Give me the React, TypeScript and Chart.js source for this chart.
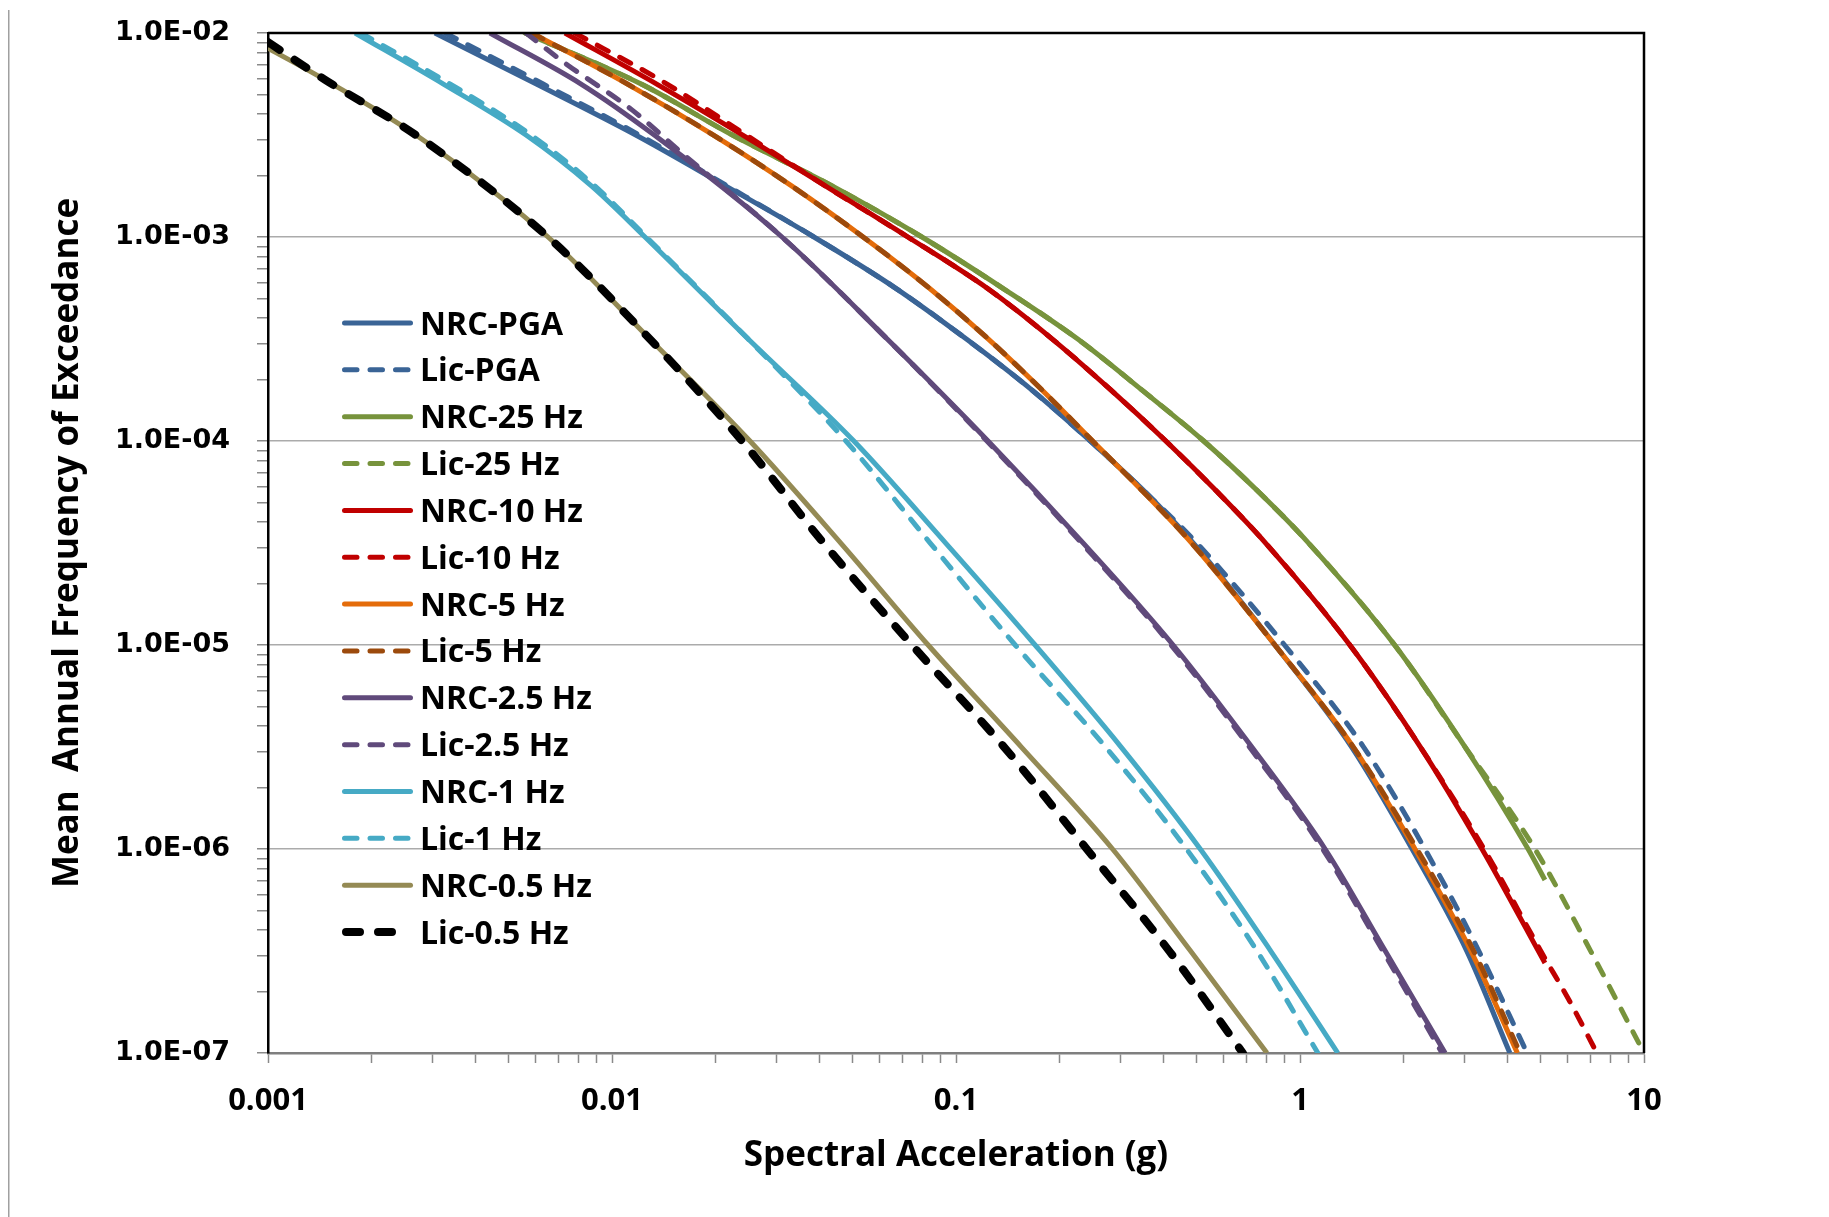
import { useEffect, useRef } from 'react';
import { Chart, registerables } from 'chart.js';

Chart.register(...registerables);

// ---------------- data ----------------
const seriesLabels = [
  'NRC-PGA', 'Lic-PGA', 'NRC-25 Hz', 'Lic-25 Hz', 'NRC-10 Hz', 'Lic-10 Hz', 'NRC-5 Hz',
  'Lic-5 Hz', 'NRC-2.5 Hz', 'Lic-2.5 Hz', 'NRC-1 Hz', 'Lic-1 Hz', 'NRC-0.5 Hz', 'Lic-0.5 Hz',
];

const nrcPgaX = [3.055e-3, 6.026e-3, 1.172e-2, 2.138e-2, 3.864e-2, 6.668e-2, 0.1072, 0.166, 0.2455, 0.3548, 0.4898, 0.8453, 1.413, 2.118, 3.055, 4.074];
const nrcPgaY = [1e-2, 5.62e-3, 3.16e-3, 1.78e-3, 1e-3, 5.62e-4, 3.16e-4, 1.78e-4, 1e-4, 5.62e-5, 3.16e-5, 1e-5, 3.16e-6, 1e-6, 3.16e-7, 1e-7];

const licPgaX = [3.273e-3, 6.31e-3, 1.202e-2, 2.163e-2, 3.864e-2, 6.668e-2, 0.1072, 0.166, 0.2455, 0.3548, 0.5012, 0.9016, 1.531, 2.307, 3.311, 4.571];
const licPgaY = [1e-2, 5.62e-3, 3.16e-3, 1.78e-3, 1e-3, 5.62e-4, 3.16e-4, 1.78e-4, 1e-4, 5.62e-5, 3.16e-5, 1e-5, 3.16e-6, 1e-6, 3.16e-7, 1e-7];

const nrc25X = [5.585e-3, 1.216e-2, 2.239e-2, 4.365e-2, 7.962e-2, 0.1365, 0.2259, 0.3467, 0.5248, 0.7586, 1.059, 1.884, 3.02, 4.603, 5.152];
const nrc25Y = [1e-2, 5.62e-3, 3.16e-3, 1.78e-3, 1e-3, 5.62e-4, 3.16e-4, 1.78e-4, 1e-4, 5.62e-5, 3.16e-5, 1e-5, 3.16e-6, 1e-6, 7.05e-7];

const lic25X = [5.585e-3, 1.216e-2, 2.239e-2, 4.365e-2, 7.962e-2, 0.1365, 0.2259, 0.3467, 0.5248, 0.7586, 1.059, 1.884, 3.02, 4.819, 6.998, 10];
const lic25Y = [1e-2, 5.62e-3, 3.16e-3, 1.78e-3, 1e-3, 5.62e-4, 3.16e-4, 1.78e-4, 1e-4, 5.62e-5, 3.16e-5, 1e-5, 3.16e-6, 1e-6, 3.16e-7, 1e-7];

const nrc10X = [7.295e-3, 1.349e-2, 2.399e-2, 4.169e-2, 7.244e-2, 0.123, 0.1905, 0.2818, 0.4074, 0.5754, 0.7943, 1.396, 2.239, 3.381, 5.152];
const nrc10Y = [1e-2, 5.62e-3, 3.16e-3, 1.78e-3, 1e-3, 5.62e-4, 3.16e-4, 1.78e-4, 1e-4, 5.62e-5, 3.16e-5, 1e-5, 3.16e-6, 1e-6, 2.76e-7];

const lic10X = [7.798e-3, 1.413e-2, 2.455e-2, 4.169e-2, 7.244e-2, 0.123, 0.1905, 0.2818, 0.4074, 0.5754, 0.7943, 1.396, 2.239, 3.428, 5.012, 6.095, 7.295];
const lic10Y = [1e-2, 5.75e-3, 3.16e-3, 1.78e-3, 1e-3, 5.62e-4, 3.16e-4, 1.78e-4, 1e-4, 5.62e-5, 3.16e-5, 1e-5, 3.16e-6, 1e-6, 3.16e-7, 1.78e-7, 1e-7];

const nrc5X = [5.85e-3, 1.109e-2, 1.972e-2, 3.327e-2, 5.37e-2, 8.356e-2, 0.1242, 0.1778, 0.2495, 0.3508, 0.4842, 0.8453, 1.429, 2.158, 3.141, 4.285];
const nrc5Y = [1e-2, 5.62e-3, 3.16e-3, 1.78e-3, 1e-3, 5.62e-4, 3.16e-4, 1.78e-4, 1e-4, 5.62e-5, 3.16e-5, 1e-5, 3.16e-6, 1e-6, 3.16e-7, 1e-7];

const lic5X = [5.85e-3, 1.109e-2, 1.972e-2, 3.327e-2, 5.37e-2, 8.356e-2, 0.1242, 0.1778, 0.2495, 0.3508, 0.4842, 0.8453, 1.429, 2.188, 3.199, 4.365];
const lic5Y = [1e-2, 5.62e-3, 3.16e-3, 1.78e-3, 1e-3, 5.62e-4, 3.16e-4, 1.78e-4, 1e-4, 5.62e-5, 3.16e-5, 1e-5, 3.16e-6, 1e-6, 3.16e-7, 1e-7];

const nrc2p5X = [4.416e-3, 8.13e-3, 1.327e-2, 3.12e-2, 6.31e-2, 0.1239, 0.2344, 0.4276, 0.7244, 1.183, 1.77, 2.642];
const nrc2p5Y = [1e-2, 5.62e-3, 3.16e-3, 1e-3, 3.16e-4, 1e-4, 3.16e-5, 1e-5, 3.16e-6, 1e-6, 3.16e-7, 1e-7];

const lic2p5X = [5.623e-3, 7.29e-3, 1.143e-2, 1.596e-2, 3.12e-2, 6.31e-2, 0.123, 0.2317, 0.4217, 0.7129, 1.164, 1.742, 2.588];
const lic2p5Y = [1e-2, 7.13e-3, 4.2e-3, 2.58e-3, 1e-3, 3.16e-4, 1e-4, 3.16e-5, 1e-5, 3.16e-6, 1e-6, 3.16e-7, 1e-7];

const nrc1X = [1.791e-3, 3.236e-3, 5.623e-3, 8.71e-3, 1.247e-2, 2.489e-2, 5.047e-2, 9.333e-2, 0.1698, 0.302, 0.5129, 0.8222, 1.288];
const nrc1Y = [1e-2, 5.62e-3, 3.16e-3, 1.78e-3, 1e-3, 3.16e-4, 1e-4, 3.16e-5, 1e-5, 3.16e-6, 1e-6, 3.16e-7, 1e-7];

const lic1X = [1.862e-3, 3.388e-3, 5.821e-3, 8.913e-3, 1.259e-2, 2.489e-2, 4.786e-2, 8.414e-2, 0.1486, 0.2723, 0.4677, 0.7499, 1.127];
const lic1Y = [1e-2, 5.62e-3, 3.16e-3, 1.78e-3, 1e-3, 3.16e-4, 1e-4, 3.16e-5, 1e-5, 3.16e-6, 1e-6, 3.16e-7, 1e-7];

const nrc0p5X = [1e-3, 1.466e-3, 2.692e-3, 6.516e-3, 1.288e-2, 2.518e-2, 4.624e-2, 8.299e-2, 0.1549, 0.2851, 0.4808, 0.8017];
const nrc0p5Y = [8.43e-3, 5.89e-3, 3.16e-3, 1e-3, 3.16e-4, 1e-4, 3.16e-5, 1e-5, 3.16e-6, 1e-6, 3.16e-7, 1e-7];

const lic0p5X = [1e-3, 1.466e-3, 2.692e-3, 6.516e-3, 1.288e-2, 2.388e-2, 4.121e-2, 7.447e-2, 0.138, 0.2399, 0.4169, 0.6823];
const lic0p5Y = [9.03e-3, 5.89e-3, 3.16e-3, 1e-3, 3.16e-4, 1e-4, 3.16e-5, 1e-5, 3.16e-6, 1e-6, 3.16e-7, 1e-7];

const seriesX = [nrcPgaX, licPgaX, nrc25X, lic25X, nrc10X, lic10X, nrc5X, lic5X, nrc2p5X, lic2p5X, nrc1X, lic1X, nrc0p5X, lic0p5X];
const seriesY = [nrcPgaY, licPgaY, nrc25Y, lic25Y, nrc10Y, lic10Y, nrc5Y, lic5Y, nrc2p5Y, lic2p5Y, nrc1Y, lic1Y, nrc0p5Y, lic0p5Y];

const yTickLabels = ['1.0E-07', '1.0E-06', '1.0E-05', '1.0E-04', '1.0E-03', '1.0E-02'];
const xTickLabels = ['0.001', '0.01', '0.1', '1', '10'];
const xAxisTitle = 'Spectral Acceleration (g)';
const yAxisTitle = 'Mean  Annual Frequency of Exceedance';

// ---------------- styles ----------------
const seriesColors = ['#3A6496', '#3A6496', '#77933C', '#77933C', '#C00000', '#C00000', '#E46C0A', '#9C4A0C', '#604A7B', '#604A7B', '#46AAC5', '#46AAC5', '#948A54', '#000000'];
const seriesDashed = [false, true, false, true, false, true, false, true, false, true, false, true, false, true];

const W = 1829;
const H = 1217;
const AREA = { left: 268, top: 33, right: 1644, bottom: 1053 };

function decadeTicks(minExp: number, maxExp: number): number[] {
  const out: number[] = [];
  for (let e = minExp; e < maxExp; e++) {
    for (let k = 1; k <= 9; k++) out.push(Number((k * Math.pow(10, e)).toPrecision(6)));
  }
  out.push(Number(Math.pow(10, maxExp).toPrecision(6)));
  return out;
}

function decadeIndex(v: number, minExp: number): number {
  const e = Math.log10(v);
  const r = Math.round(e);
  if (Math.abs(e - r) < 1e-6) return r - minExp;
  return -1;
}

const frame = {
  id: 'frameAndLegend',
  beforeDraw(chart: any) {
    const ctx = chart.ctx;
    ctx.save();
    ctx.fillStyle = '#ffffff';
    ctx.fillRect(0, 0, chart.width, chart.height);
    ctx.fillStyle = '#a0a0a0';
    ctx.fillRect(8, 10, 1.5, chart.height - 10);
    ctx.restore();
  },
  afterDatasetsDraw(chart: any) {
    const ctx = chart.ctx;
    const a = chart.chartArea;
    ctx.save();
    ctx.strokeStyle = '#000000';
    ctx.lineWidth = 2.5;
    ctx.beginPath();
    ctx.moveTo(a.left, a.top);
    ctx.lineTo(a.right, a.top);
    ctx.lineTo(a.right, a.bottom);
    ctx.stroke();

    // legend (inside the plot, left)
    const rowY0 = 323;
    const rowGap = 46.85;
    const x0 = 342;
    const x1 = 413;
    chart.data.datasets.forEach((ds: any, i: number) => {
      const y = rowY0 + i * rowGap;
      const w = ds.borderWidth;
      ctx.strokeStyle = ds.borderColor;
      ctx.lineWidth = w;
      ctx.lineCap = 'round';
      ctx.setLineDash(ds.borderDash || []);
      ctx.beginPath();
      ctx.moveTo(x0 + w / 2, y);
      ctx.lineTo(x1 - w / 2, y);
      ctx.stroke();
      ctx.setLineDash([]);
      ctx.fillStyle = '#000000';
      ctx.font = 'bold 32px "Open Sans"';
      ctx.textBaseline = 'alphabetic';
      ctx.textAlign = 'left';
      ctx.fillText(ds.label, 420, y + 11.5);
    });
    ctx.restore();
  },
};

export default function App() {
  const ref = useRef<HTMLCanvasElement>(null);

  useEffect(() => {
    const canvas = ref.current;
    if (!canvas) return;

    const datasets = seriesLabels.map((label, i) => {
      const dashed = seriesDashed[i];
      const black = seriesColors[i] === '#000000';
      const width = black ? 8 : 5;
      return {
        label,
        data: seriesX[i].map((x, j) => ({ x, y: seriesY[i][j] })),
        borderColor: seriesColors[i],
        backgroundColor: seriesColors[i],
        borderWidth: width,
        borderDash: dashed ? (black ? [14, 18] : [12.5, 13]) : [],
        borderCapStyle: dashed ? 'round' : 'butt',
        borderJoinStyle: 'round',
        showLine: true,
        pointRadius: 0,
        pointHoverRadius: 0,
        cubicInterpolationMode: 'monotone',
        fill: false,
        clip: 0,
        order: seriesLabels.length - i,
      };
    });

    const chart = new Chart(canvas, {
      type: 'scatter',
      data: { datasets } as any,
      plugins: [frame],
      options: {
        animation: false,
        responsive: false,
        devicePixelRatio: 1,
        events: [],
        layout: { padding: { left: 0, top: AREA.top, right: W - AREA.right, bottom: 0 } },
        plugins: {
          legend: { display: false },
          tooltip: { enabled: false },
          title: { display: false },
        },
        scales: {
          x: {
            type: 'logarithmic',
            position: 'bottom',
            min: 0.001,
            max: 10,
            afterFit: (s: any) => {
              s.height = H - AREA.bottom;
              s.paddingLeft = 0;
              s.paddingRight = 0;
            },
            afterBuildTicks: (s: any) => { s.ticks = decadeTicks(-3, 1).map((value) => ({ value })); },
            border: { display: true, color: '#7f7f7f', width: 2.5 },
            grid: {
              display: true,
              drawOnChartArea: false,
              drawTicks: true,
              tickLength: 10,
              tickColor: '#8a8a8a',
              tickWidth: 1.5,
              color: '#8a8a8a',
            },
            ticks: {
              autoSkip: false,
              maxRotation: 0,
              padding: 20,
              color: '#000000',
              font: { family: '"Open Sans"', size: 31, weight: 'bold' },
              callback: (v: any) => {
                const k = decadeIndex(Number(v), -3);
                return k >= 0 ? xTickLabels[k] : '';
              },
            },
            title: {
              display: true,
              text: xAxisTitle,
              color: '#000000',
              font: { family: '"Open Sans"', size: 35, weight: 'bold' },
              padding: { top: 0, bottom: 40 },
            },
          },
          y: {
            type: 'logarithmic',
            position: 'left',
            min: 1e-7,
            max: 1e-2,
            afterFit: (s: any) => {
              s.width = AREA.left;
              s.paddingTop = 0;
              s.paddingBottom = 0;
            },
            afterBuildTicks: (s: any) => { s.ticks = decadeTicks(-7, -2).map((value) => ({ value })); },
            border: { display: true, color: '#000000', width: 2.5 },
            grid: {
              display: true,
              drawOnChartArea: true,
              drawTicks: true,
              tickLength: 11,
              tickWidth: 1.5,
              tickColor: '#8a8a8a',
              lineWidth: 1.5,
              color: (c: any) => (c.tick && decadeIndex(c.tick.value, -7) >= 0 ? '#ababab' : 'rgba(0,0,0,0)'),
            },
            ticks: {
              autoSkip: false,
              padding: 27,
              color: '#000000',
              font: { family: '"DejaVu Sans"', size: 27, weight: 'bold' },
              callback: (v: any) => {
                const k = decadeIndex(Number(v), -7);
                return k >= 0 ? yTickLabels[k] : '';
              },
            },
            title: {
              display: true,
              text: yAxisTitle,
              color: '#000000',
              font: { family: '"Open Sans"', size: 35, weight: 'bold' },
              padding: { top: 47, bottom: 0 },
            },
          },
        },
      } as any,
    });

    return () => chart.destroy();
  }, []);

  return (
    <div style={{ position: 'absolute', left: 0, top: 0, width: W, height: H, background: '#ffffff' }}>
      <canvas ref={ref} width={W} height={H} style={{ display: 'block', width: W, height: H }} />
    </div>
  );
}
